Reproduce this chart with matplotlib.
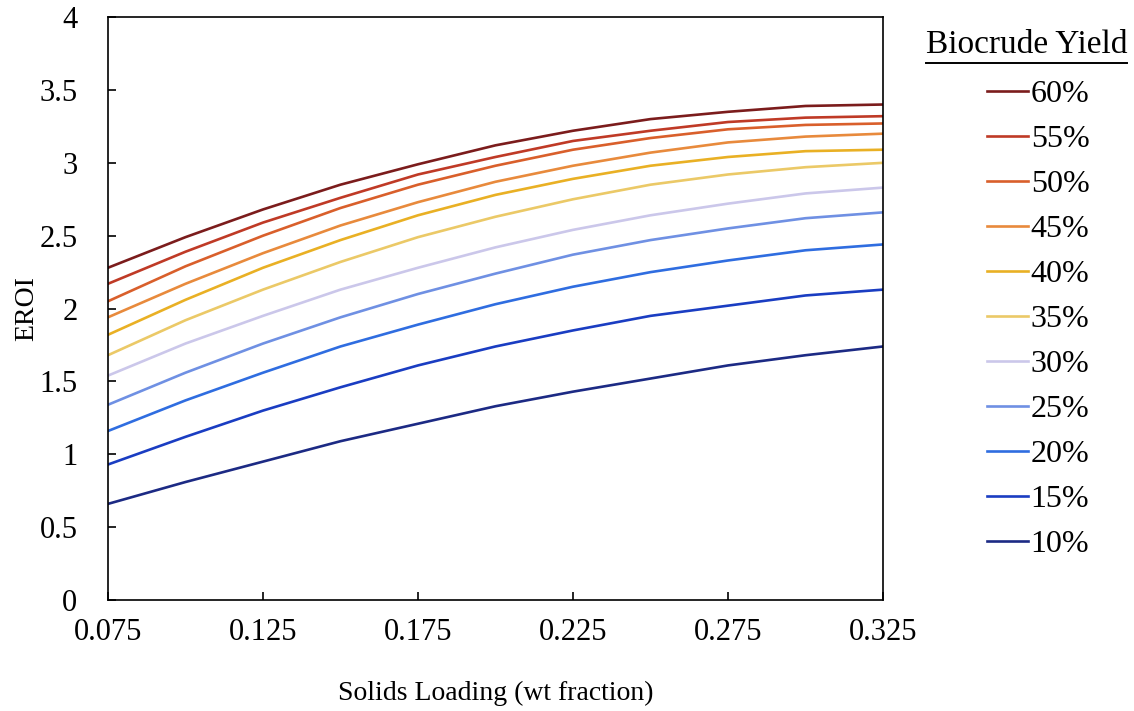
import matplotlib
matplotlib.use("Agg")
import matplotlib.pyplot as plt
from matplotlib.lines import Line2D

plt.rcParams["font.family"] = ["Liberation Serif", "DejaVu Serif"]

# solids loading (wt fraction)
solids = [0.075, 0.100, 0.125, 0.150, 0.175, 0.200, 0.225, 0.250, 0.275, 0.300, 0.325]

# EROI, one list per biocrude yield
y60 = [2.28, 2.49, 2.68, 2.85, 2.99, 3.12, 3.22, 3.30, 3.35, 3.39, 3.40]
y55 = [2.17, 2.39, 2.59, 2.76, 2.92, 3.04, 3.15, 3.22, 3.28, 3.31, 3.32]
y50 = [2.05, 2.29, 2.50, 2.69, 2.85, 2.98, 3.09, 3.17, 3.23, 3.26, 3.27]
y45 = [1.94, 2.17, 2.38, 2.57, 2.73, 2.87, 2.98, 3.07, 3.14, 3.18, 3.20]
y40 = [1.82, 2.06, 2.28, 2.47, 2.64, 2.78, 2.89, 2.98, 3.04, 3.08, 3.09]
y35 = [1.68, 1.92, 2.13, 2.32, 2.49, 2.63, 2.75, 2.85, 2.92, 2.97, 3.00]
y30 = [1.54, 1.76, 1.95, 2.13, 2.28, 2.42, 2.54, 2.64, 2.72, 2.79, 2.83]
y25 = [1.34, 1.56, 1.76, 1.94, 2.10, 2.24, 2.37, 2.47, 2.55, 2.62, 2.66]
y20 = [1.16, 1.37, 1.56, 1.74, 1.89, 2.03, 2.15, 2.25, 2.33, 2.40, 2.44]
y15 = [0.93, 1.12, 1.30, 1.46, 1.61, 1.74, 1.85, 1.95, 2.02, 2.09, 2.13]
y10 = [0.66, 0.81, 0.95, 1.09, 1.21, 1.33, 1.43, 1.52, 1.61, 1.68, 1.74]

labels = ["60%", "55%", "50%", "45%", "40%", "35%", "30%", "25%", "20%", "15%", "10%"]
series = [y60, y55, y50, y45, y40, y35, y30, y25, y20, y15, y10]
colors = ["#7b1c1c", "#bf3a26", "#d95f2b", "#e88a3c", "#e9b024", "#ebc967",
          "#cbc7ea", "#6f90e3", "#2f6de0", "#1a3dc2", "#1c2a84"]

fig = plt.figure(figsize=(11.34, 7.11), dpi=100)
ax = fig.add_axes([0.0952, 0.156, 0.6835, 0.820])

for ys, c, lab in zip(series, colors, labels):
    ax.plot(solids, ys, color=c, lw=1.9, label=lab, solid_joinstyle="round")

ax.set_xlim(0.075, 0.325)
ax.set_ylim(0, 4)
ax.set_xticks([0.075, 0.125, 0.175, 0.225, 0.275, 0.325])
ax.set_xticklabels(["0.075", "0.125", "0.175", "0.225", "0.275", "0.325"])
ax.set_yticks([0, 0.5, 1, 1.5, 2, 2.5, 3, 3.5, 4])
ax.set_yticklabels(["0", "0.5", "1", "1.5", "2", "2.5", "3", "3.5", "4"])
ax.tick_params(direction="in", length=6, width=1.2, labelsize=22)
ax.tick_params(axis="y", pad=22)
ax.tick_params(axis="x", pad=13)
for s in ax.spines.values():
    s.set_linewidth(1.2)

ax.set_xlabel("Solids Loading (wt fraction)", fontsize=20, labelpad=24)
ax.set_ylabel("EROI", fontsize=20, labelpad=0)

leg = ax.legend(loc="upper left", bbox_to_anchor=(0.870, 0.888), bbox_transform=fig.transFigure,
                frameon=False, fontsize=23, handlelength=1.3, handletextpad=0.08,
                labelspacing=0.49, borderaxespad=0, borderpad=0)

t = fig.text(0.8165, 0.925, "Biocrude Yield", fontsize=24, ha="left", va="baseline")
fig.canvas.draw()
bb = t.get_window_extent().transformed(fig.transFigure.inverted())
fig.add_artist(Line2D([bb.x0, bb.x1], [bb.y0 - 0.004, bb.y0 - 0.004], color="black", lw=1.4,
                      transform=fig.transFigure))

fig.savefig("out.png", dpi=100)
